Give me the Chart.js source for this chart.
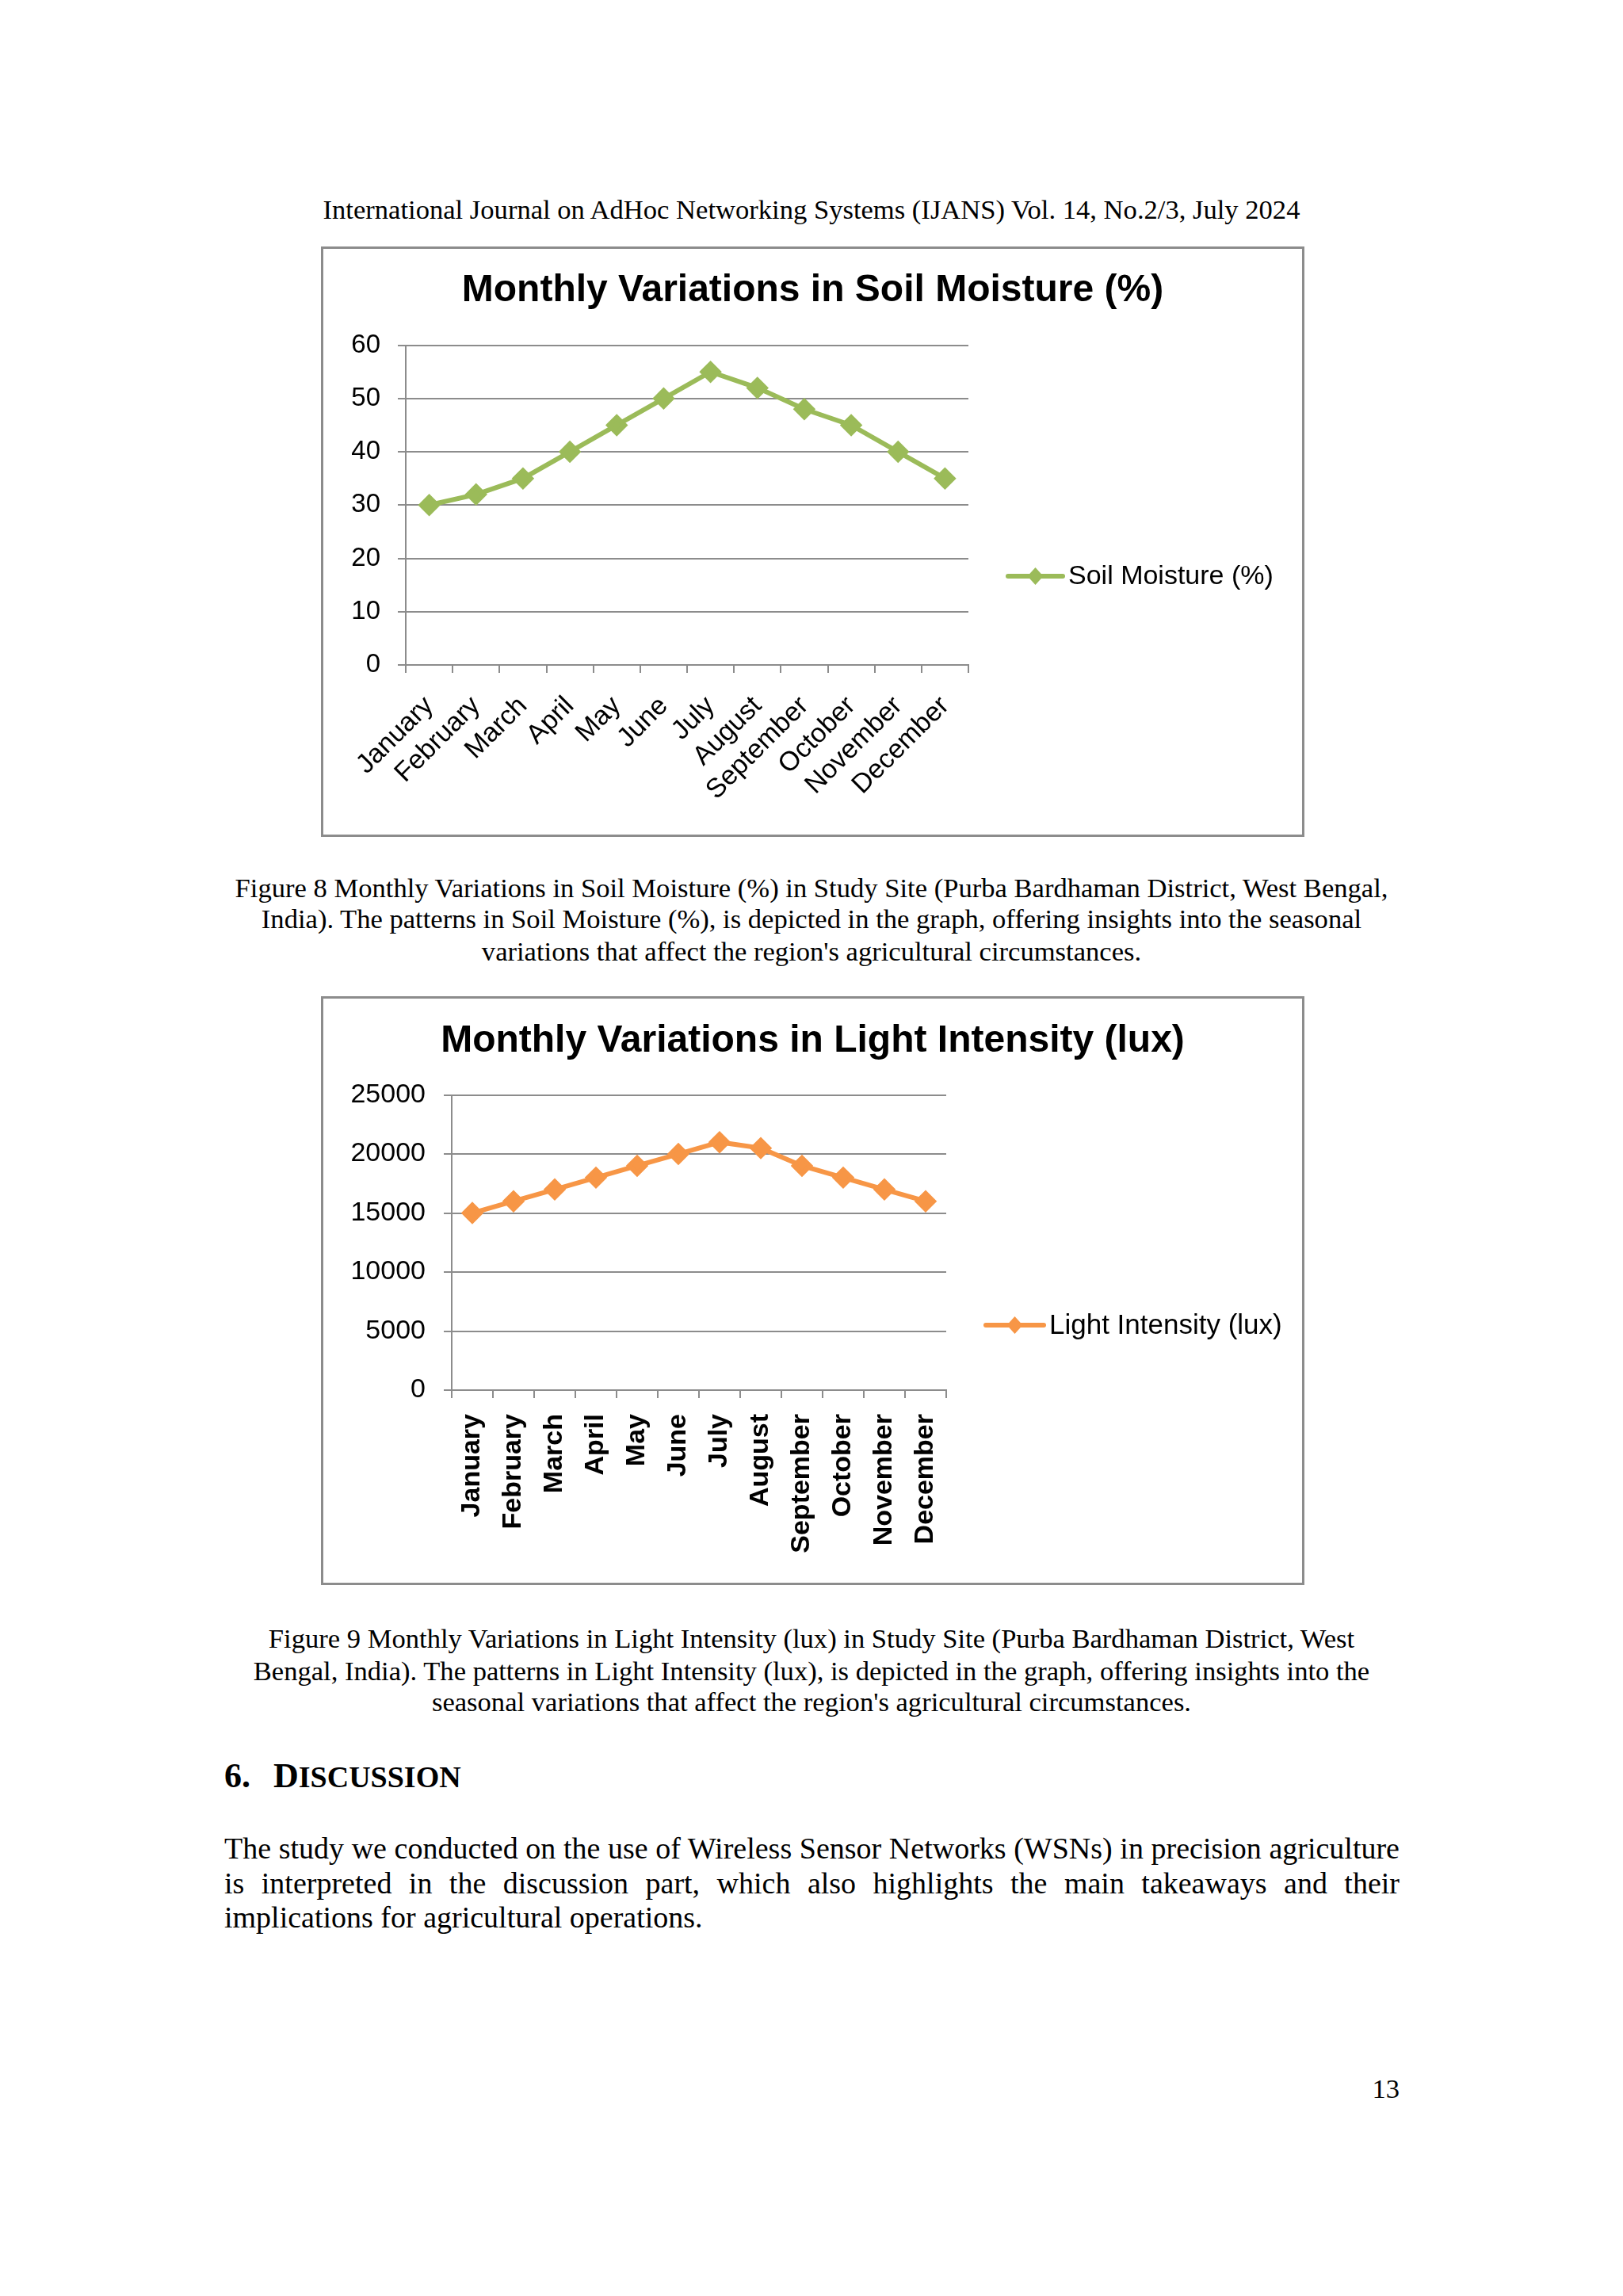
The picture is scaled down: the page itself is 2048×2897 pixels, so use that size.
<!DOCTYPE html>
<html>
<head>
<meta charset="utf-8">
<script src="https://cdn.jsdelivr.net/npm/chart.js@4.4.1/dist/chart.umd.min.js"></script>
<style>
  html, body { margin: 0; padding: 0; background: #fff; }
  body { width: 2048px; height: 2897px; position: relative; overflow: hidden; }
  .txt { position: absolute; font-family: "Liberation Serif", "Times New Roman", serif; color: #000; white-space: nowrap; }
  .center { left: 0; width: 2048px; text-align: center; }
  .box { position: absolute; left: 405px; width: 1241px; border: 3px solid #8c8c8c; box-sizing: border-box; background: #fff; }
  .box canvas { position: absolute; left: 0; top: 0; }
  .just { text-align: justify; text-align-last: justify; left: 283px; width: 1483px; }
</style>
</head>
<body>

<div class="txt center" style="top:244px; font-size:34.6px; line-height:40px;">International Journal on AdHoc Networking Systems (IJANS) Vol. 14, No.2/3, July 2024</div>

<div class="box" style="top:311px; height:745px;"><canvas id="soilChart" width="1235" height="739"></canvas></div>

<div class="txt center" style="top:1100px; font-size:34.6px; line-height:40px;">Figure 8 Monthly Variations in Soil Moisture (%) in Study Site (Purba Bardhaman District, West Bengal,</div>
<div class="txt center" style="top:1139px; font-size:34.6px; line-height:40px;">India). The patterns in Soil Moisture (%), is depicted in the graph, offering insights into the seasonal</div>
<div class="txt center" style="top:1180px; font-size:34.6px; line-height:40px;">variations that affect the region's agricultural circumstances.</div>

<div class="box" style="top:1257px; height:743px;"><canvas id="lightChart" width="1235" height="737"></canvas></div>

<div class="txt center" style="top:2047px; font-size:34.6px; line-height:40px;">Figure 9 Monthly Variations in Light Intensity (lux) in Study Site (Purba Bardhaman District, West</div>
<div class="txt center" style="top:2088px; font-size:34.6px; line-height:40px;">Bengal, India). The patterns in Light Intensity (lux), is depicted in the graph, offering insights into the</div>
<div class="txt center" style="top:2127px; font-size:34.6px; line-height:40px;">seasonal variations that affect the region's agricultural circumstances.</div>

<div class="txt" style="left:283px; top:2216px; font-size:44px; line-height:50px; font-weight:bold;">6.</div>
<div class="txt" style="left:345px; top:2216px; font-size:44px; line-height:50px; font-weight:bold;">D<span style="font-size:38px;">ISCUSSION</span></div>

<div class="txt just" style="top:2310px; font-size:38px; line-height:44px;">The study we conducted on the use of Wireless Sensor Networks (WSNs) in precision agriculture</div>
<div class="txt just" style="top:2354px; font-size:38px; line-height:44px;">is interpreted in the discussion part, which also highlights the main takeaways and their</div>
<div class="txt" style="left:283px; top:2397px; font-size:38px; line-height:44px;">implications for agricultural operations.</div>

<div class="txt" style="left:1666px; width:100px; text-align:right; top:2615px; font-size:34.6px; line-height:40px;">13</div>

<script>
let months = ["January", "February", "March", "April", "May", "June",
  "July", "August", "September", "October", "November", "December"];
let soilMoisture = [30, 32, 35, 40, 45, 50, 55, 52, 48, 45, 40, 35];
let lightIntensity = [15000, 16000, 17000, 18000, 19000, 20000, 21000, 20500, 19000, 18000, 17000, 16000];
let soilTicks = [0, 60, 10];
let lightTicks = [0, 25000, 5000];

Chart.defaults.font.family = "'Liberation Sans', Arial, sans-serif";
Chart.defaults.color = "#000";

// legend like the excel one: a box on the right side of the chart,
// a line with a diamond and the series name
const sideLegend = {
  id: "sideLegend",
  start(chart, args, opts) {
    let box = {
      position: "right",
      weight: 1000,
      fullSize: false,
      options: {},
      top: 0, left: 0, right: 0, bottom: 0, width: 0, height: 0,
      isHorizontal() { return false; },
      update(maxWidth, maxHeight) {
        this.width = chart.options.plugins.sideLegend.width;
        this.height = maxHeight;
      },
      draw() {}
    };
    Chart.layouts.addBox(chart, box);
  },
  afterDraw(chart, args, opts) {
    let ctx = chart.ctx;
    let ds = chart.data.datasets[0];
    ctx.save();
    ctx.strokeStyle = ds.borderColor;
    ctx.lineWidth = 6;
    ctx.lineCap = "round";
    ctx.beginPath();
    ctx.moveTo(opts.x, opts.y);
    ctx.lineTo(opts.x + opts.len, opts.y);
    ctx.stroke();
    let cx = opts.x + opts.len / 2;
    ctx.fillStyle = ds.borderColor;
    ctx.beginPath();
    ctx.moveTo(cx - 10, opts.y);
    ctx.lineTo(cx, opts.y - 11);
    ctx.lineTo(cx + 10, opts.y);
    ctx.lineTo(cx, opts.y + 11);
    ctx.closePath();
    ctx.fill();
    ctx.fillStyle = "#000";
    ctx.font = opts.font + "px 'Liberation Sans', Arial, sans-serif";
    ctx.textBaseline = "middle";
    ctx.fillText(ds.label, opts.x + opts.len + 7, opts.y + 1);
    ctx.restore();
  }
};

function makeChart(id, opt) {
  return new Chart(document.getElementById(id), {
    type: "line",
    data: {
      labels: months,
      datasets: [{
        label: opt.label,
        data: opt.data,
        borderColor: opt.color,
        backgroundColor: opt.color,
        pointBackgroundColor: opt.color,
        pointBorderColor: opt.color,
        borderWidth: 6,
        pointStyle: "rectRot",
        pointRadius: 10,
        pointHoverRadius: 10,
        tension: 0
      }]
    },
    options: {
      responsive: false,
      animation: false,
      devicePixelRatio: 1,
      layout: { padding: 0 },
      plugins: {
        legend: { display: false },
        tooltip: { enabled: false },
        title: {
          display: true,
          text: opt.title,
          color: "#000",
          font: { size: 48, weight: "bold", lineHeight: 1.2 },
          padding: { top: opt.titleTop, bottom: opt.titleBottom }
        },
        sideLegend: opt.legend
      },
      scales: {
        x: {
          offset: true,
          afterFit: (s) => { s.height = opt.xHeight; },
          grid: { offset: true, drawOnChartArea: false, drawTicks: true, tickLength: 10, color: "#8c8c8c", lineWidth: 2 },
          border: { display: true, color: "#8c8c8c", width: 2 },
          ticks: {
            autoSkip: false,
            minRotation: opt.rotation,
            maxRotation: opt.rotation,
            padding: opt.xPad,
            color: "#000",
            font: { size: opt.xFont, weight: opt.xWeight }
          }
        },
        y: {
          min: opt.ticks[0],
          max: opt.ticks[1],
          afterFit: (s) => { s.width = opt.yWidth; },
          grid: { color: "#8c8c8c", lineWidth: 2, tickLength: 10 },
          border: { display: true, color: "#8c8c8c", width: 2 },
          ticks: {
            stepSize: opt.ticks[2],
            padding: opt.yPad,
            color: "#000",
            font: { size: opt.yFont },
            callback: (v) => String(v)
          }
        }
      }
    },
    plugins: [sideLegend]
  });
}

makeChart("soilChart", {
  label: "Soil Moisture (%)",
  title: "Monthly Variations in Soil Moisture (%)",
  data: soilMoisture,
  ticks: soilTicks,
  color: "#9bbb59",
  titleTop: 24,
  titleBottom: 40,
  xHeight: 214,
  yWidth: 104,
  yPad: 22,
  yFont: 33,
  xPad: 22,
  rotation: 45,
  xFont: 34,
  xWeight: "normal",
  legend: { width: 421, x: 864, y: 413, len: 69, font: 34 }
});

makeChart("lightChart", {
  label: "Light Intensity (lux)",
  title: "Monthly Variations in Light Intensity (lux)",
  data: lightIntensity,
  ticks: lightTicks,
  color: "#f79646",
  titleTop: 25,
  titleBottom: 39,
  xHeight: 243,
  yWidth: 162,
  yPad: 23,
  yFont: 34,
  xPad: 20,
  rotation: 90,
  xFont: 34,
  xWeight: "bold",
  legend: { width: 449, x: 836, y: 412, len: 73, font: 35 }
});
</script>
</body>
</html>
